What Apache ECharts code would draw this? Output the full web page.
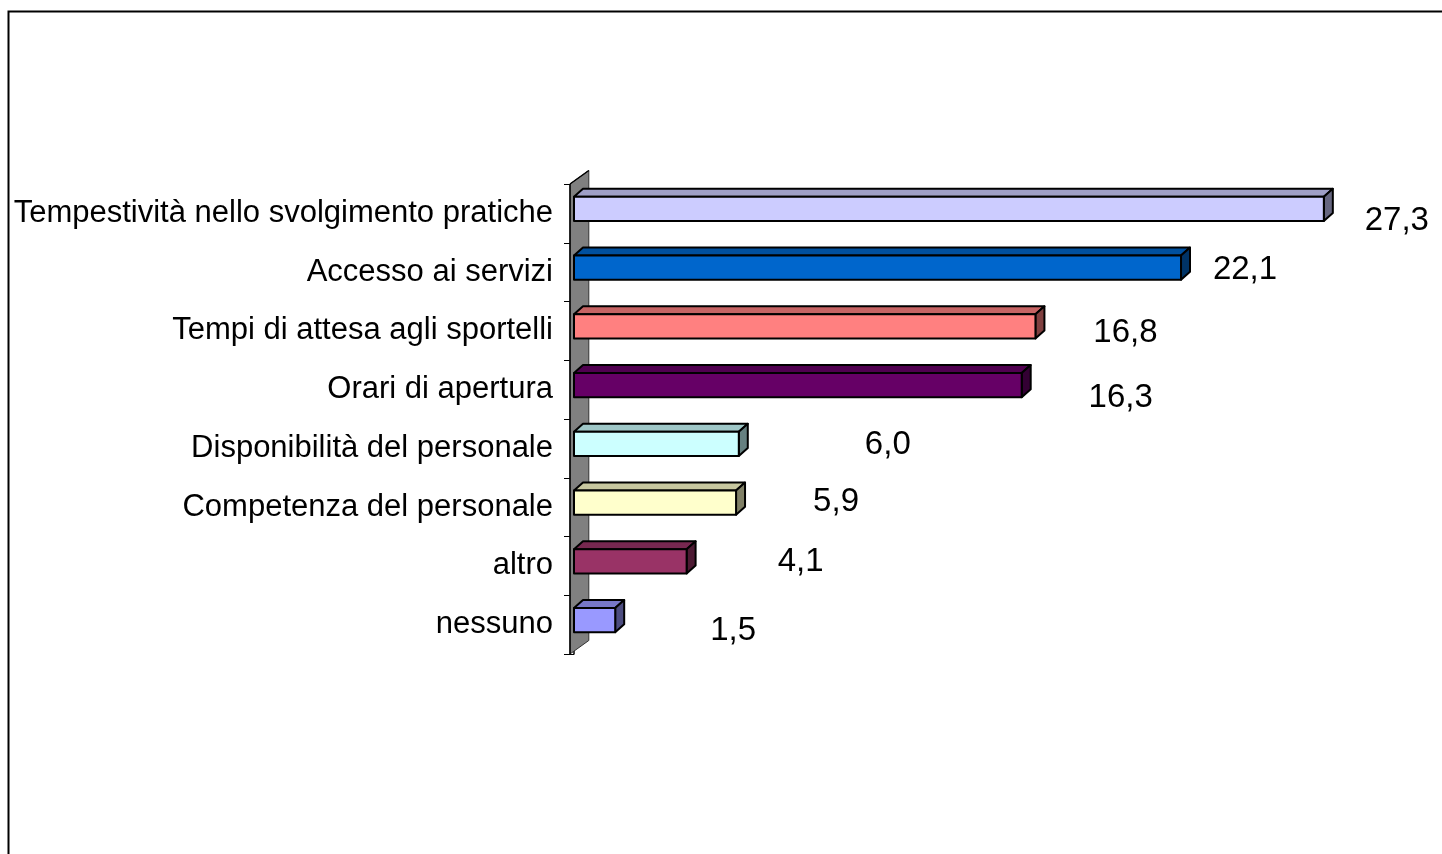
<!DOCTYPE html>
<html>
<head>
<meta charset="utf-8">
<script src="https://cdn.jsdelivr.net/npm/echarts@6/dist/echarts.min.js"></script>
<style>
html,body{margin:0;padding:0;background:#fff;}
#chart{width:1442px;height:854px;}
</style>
</head>
<body>
<div id="chart"></div>
<script>
const categories = [
  'Tempestività nello svolgimento pratiche',
  'Accesso ai servizi',
  'Tempi di attesa agli sportelli',
  'Orari di apertura',
  'Disponibilità del personale',
  'Competenza del personale',
  'altro',
  'nessuno'
];
const values = [27.3, 22.1, 16.8, 16.3, 6.0, 5.9, 4.1, 1.5];
const barColors = ['#CCCCFF', '#0066CC', '#FF8080', '#660066', '#CCFFFF', '#FFFFCC', '#993366', '#9999FF'];
// label offsets (px) from the bar end / band centre, as placed in the original
const labelOffsets = [[73, 8], [64, -2], [90, 2], [99, 8], [149, -3], [100, -5], [114, -4], [118, 6]];

const FONT = '"Liberation Sans", Arial, sans-serif';

function shade(hex, f) {
  const n = parseInt(hex.slice(1), 16);
  const r = Math.round(((n >> 16) & 255) * f);
  const g = Math.round(((n >> 8) & 255) * f);
  const b = Math.round((n & 255) * f);
  return 'rgb(' + r + ',' + g + ',' + b + ')';
}

const chart = echarts.init(document.getElementById('chart'), null, {renderer: 'canvas'});

function renderBar(params, api) {
  const i = api.value(0);
  const v = api.value(1);
  const p0 = api.coord([0, i]);
  const p1 = api.coord([v, i]);
  const band = api.size([0, 1])[1];
  const h = band * 0.41;
  const cy = p0[1] - band * 0.077;
  const dx = band * 0.153;
  const dy = band * 0.136;
  const x0 = p0[0], x1 = p1[0];
  const yT = cy - h / 2, yB = cy + h / 2;
  const col = barColors[i];
  const off = labelOffsets[i];
  const stroke = {stroke: '#000', lineWidth: 2, lineJoin: 'round'};
  return {
    type: 'group',
    children: [
      {type: 'polygon', shape: {points: [[x0, yT], [x0 + dx, yT - dy], [x1 + dx, yT - dy], [x1, yT]]},
        style: Object.assign({fill: shade(col, 0.78)}, stroke)},
      {type: 'polygon', shape: {points: [[x1, yT], [x1 + dx, yT - dy], [x1 + dx, yB - dy], [x1, yB]]},
        style: Object.assign({fill: shade(col, 0.5)}, stroke)},
      {type: 'rect', shape: {x: x0, y: yT, width: x1 - x0, height: h},
        style: Object.assign({fill: col}, stroke)},
      {type: 'text', style: {
        x: x1 + off[0], y: p0[1] + off[1],
        text: v.toFixed(1).replace('.', ','),
        fill: '#000', fontSize: 33, fontFamily: FONT,
        align: 'center', verticalAlign: 'middle'
      }}
    ]
  };
}

function renderWall(params, api) {
  const cs = params.coordSys;
  const band = api.size([0, 1])[1];
  const x0 = cs.x - 4;
  const w = band * 0.32;
  const sl = band * 0.23;
  const top = cs.y, bot = cs.y + cs.height;
  return {
    type: 'group',
    children: [
      {type: 'polygon', shape: {points: [[x0, top], [x0 + w, top - sl], [x0 + w, bot - sl], [x0, bot]]},
        style: {fill: '#808080', stroke: '#333', lineWidth: 1}},
      {type: 'line', shape: {x1: x0, y1: top, x2: x0, y2: bot}, style: {stroke: '#000', lineWidth: 1.5}},
      {type: 'line', shape: {x1: x0, y1: top, x2: x0 + w, y2: top - sl}, style: {stroke: '#000', lineWidth: 1.5}}
    ]
  };
}

chart.setOption({
  animation: false,
  backgroundColor: '#fff',
  graphic: [{
    type: 'rect', left: 6, top: 9, z: 100, silent: true,
    shape: {width: 1500, height: 900},
    style: {fill: 'none', stroke: '#000', lineWidth: 2}
  }],
  grid: {left: 574, right: 44, top: 184, bottom: 200, containLabel: false},
  xAxis: {
    type: 'value', min: 0, max: 30, show: false
  },
  yAxis: {
    type: 'category', data: categories, inverse: true, offset: 4,
    boundaryGap: true,
    axisLine: {show: true, lineStyle: {color: '#000', width: 1.5}},
    axisTick: {show: true, length: 10, lineStyle: {color: '#000', width: 1}},
    axisLabel: {margin: 17, fontSize: 31, color: '#000', fontFamily: FONT},
    splitLine: {show: false}
  },
  series: [
    {
      type: 'custom', name: 'wall', renderItem: renderWall,
      data: [[0, 0]], encode: {x: 1, y: 0}, z: 1, silent: true
    },
    {
      type: 'custom', name: 'bars', renderItem: renderBar,
      data: values.map((v, i) => [i, v]), encode: {y: 0, x: 1}, z: 3
    }
  ]
});
</script>
</body>
</html>
